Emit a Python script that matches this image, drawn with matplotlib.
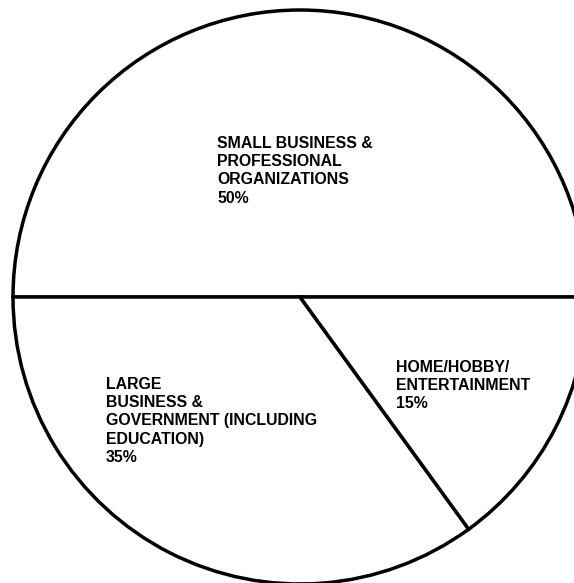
import matplotlib.pyplot as plt

# market segments and their share (percent)
listLabels = ['SMALL BUSINESS &\nPROFESSIONAL\nORGANIZATIONS',
              'LARGE\nBUSINESS &\nGOVERNMENT (INCLUDING\nEDUCATION)',
              'HOME/HOBBY/\nENTERTAINMENT']
listShare = [50, 35, 15]

W, H = 574, 583

fig = plt.figure(figsize=(W / 100, H / 100), dpi=100)
ax = fig.add_axes([0, 0, 1, 1])

# pie in pixel coordinates (y measured from bottom)
cx, cy, r = 300, H - 297, 287
ax.pie(listShare, startangle=0, counterclock=True, center=(cx, cy), radius=r,
       colors=['white'] * len(listShare),
       wedgeprops={'edgecolor': 'black', 'linewidth': 2.5})
ax.set_xlim(0, W)
ax.set_ylim(0, H)
ax.set_aspect('equal')
ax.axis('off')

# label anchor points (top-left of each block)
listTextPos = [(217, 136), (106, 377), (396, 360)]
for label, share, (x, y) in zip(listLabels, listShare, listTextPos):
    ax.text(x, H - y, '%s\n%d%%' % (label, share), ha='left', va='top',
            fontsize=11.4, fontweight='bold', family='Liberation Sans',
            linespacing=1.27)

fig.savefig('out.png', dpi=100)
